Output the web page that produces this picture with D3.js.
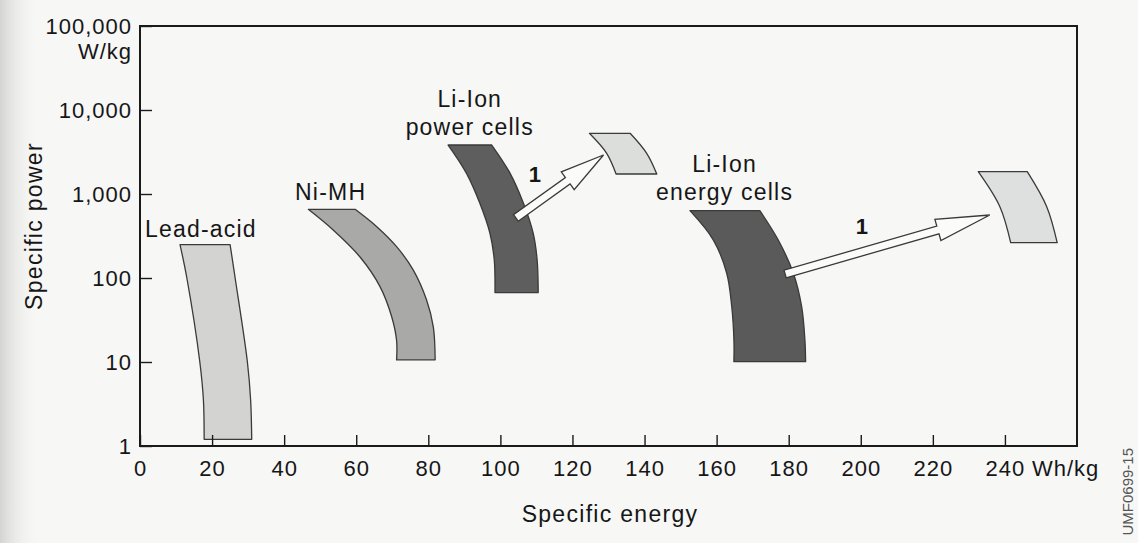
<!DOCTYPE html>
<html>
<head>
<meta charset="utf-8">
<script src="https://cdn.jsdelivr.net/npm/d3@7"></script>
<style>
  html, body { margin: 0; padding: 0; background: #f7f7f6; }
  svg { display: block; }
  text { font-family: "Liberation Sans", Arial, Helvetica, sans-serif; fill: #161616; }
</style>
</head>
<body>
<div id="chart"></div>
<script>
// Specific energy (Wh/kg) on x, specific power (W/kg, log) on y
const xTicks = [0, 20, 40, 60, 80, 100, 120, 140, 160, 180, 200, 220, 240];
const yTicks = [1, 10, 100, 1000, 10000, 100000];

// each band: left edge and right edge, read from top to bottom as [Wh/kg, W/kg]
const leadAcidLeft  = [[11.1, 250], [13.0, 100], [16.6, 10], [17.6, 3.5], [17.8, 1.2]];
const leadAcidRight = [[25.0, 250], [26.4, 100], [29.8, 10], [30.7, 3.5], [31.0, 1.2]];

const niMhLeft  = [[46.7, 657], [53.6, 373], [61.0, 179], [66.6, 79], [69.8, 35], [71.2, 18], [71.2, 10.6]];
const niMhRight = [[59.7, 657], [65.7, 408], [71.2, 236], [75.8, 125], [79.5, 55], [81.4, 26], [81.9, 10.6]];

const liPowerLeft  = [[85.5, 3830], [90.6, 1763], [94.3, 775], [97.1, 341], [98.3, 164], [98.5, 67]];
const liPowerRight = [[97.6, 3830], [102.7, 1763], [106.4, 775], [109.1, 341], [110.2, 164], [110.5, 67]];

const liPowerNextLeft  = [[124.7, 5280], [129.5, 3050], [132.1, 1730]];
const liPowerNextRight = [[136.0, 5280], [140.6, 3050], [143.4, 1730]];

const liEnergyLeft  = [[152.6, 633], [159.1, 283], [162.8, 114], [164.2, 45.5], [164.8, 18.3], [164.8, 10.1]];
const liEnergyRight = [[172.0, 633], [177.1, 283], [181.3, 114], [183.6, 45.5], [184.5, 18.3], [184.7, 10.1]];

const liEnergyNextLeft  = [[232.6, 1844], [238.6, 706], [241.6, 263]];
const liEnergyNextRight = [[246.2, 1844], [251.6, 706], [254.5, 263]];

// development arrows "1": tail -> tip
const arrowFrom = [[104.3, 518], [179.0, 111.6]];
const arrowTo   = [[128.6, 2912], [235.8, 562]];

// labels
const regionLabels = [["Lead-acid"], ["Ni-MH"], ["Li-Ion", "power cells"], ["Li-Ion", "energy cells"]];
const labelAt = [[1.4, 308], [52.9, 849], [91.5, 10860], [162.2, 1844]];
const labelAnchor = ["start", "middle", "middle", "middle"];
const arrowLabelAt = [[109.6, 1389], [200.3, 334]];

const W = 1138, H = 543;
const svg = d3.select('#chart').append('svg')
  .attr('width', W)
  .attr('height', H);

// slight grey at the left edge of the photographed page
const grad = svg.append('defs').append('linearGradient').attr('id', 'edge');
grad.append('stop').attr('offset', '0%').attr('stop-color', '#d4d4d2');
grad.append('stop').attr('offset', '100%').attr('stop-color', '#f7f7f6').attr('stop-opacity', 0);
svg.append('rect').attr('x', 0).attr('y', 0).attr('width', 40).attr('height', H).attr('fill', 'url(#edge)');

const x = d3.scaleLinear().domain([0, 260]).range([140, 1077]);
const y = d3.scaleLog().domain([1, 100000]).range([446, 26]);

const ink = '#1a1a1a';
const edge = '#3a3a3a';

// bands
const line = d3.line()
  .x(d => x(d[0]))
  .y(d => y(d[1]))
  .curve(d3.curveCatmullRom.alpha(0.5));

function band(left, right) {
  const l = line(left);
  const r = line(right.slice().reverse());
  return l + 'L' + r.slice(1) + 'Z';
}

const bands = [
  { left: leadAcidLeft, right: leadAcidRight, fill: '#d3d3d2' },
  { left: niMhLeft, right: niMhRight, fill: '#a9a9a8' },
  { left: liPowerLeft, right: liPowerRight, fill: '#5f5e5e' },
  { left: liPowerNextLeft, right: liPowerNextRight, fill: '#dcdedc' },
  { left: liEnergyLeft, right: liEnergyRight, fill: '#5b5a5a' },
  { left: liEnergyNextLeft, right: liEnergyNextRight, fill: '#dde0de' }
];

svg.append('g').selectAll('path')
  .data(bands)
  .join('path')
  .attr('d', d => band(d.left, d.right))
  .attr('fill', d => d.fill)
  .attr('stroke', edge)
  .attr('stroke-width', 1.3)
  .attr('stroke-linejoin', 'round');

// hollow block arrows
const headLen = [44, 54];
function arrowPath(p0, p1, hl) {
  const dx = p1[0] - p0[0], dy = p1[1] - p0[1];
  const len = Math.hypot(dx, dy);
  const ux = dx / len, uy = dy / len;
  const nx = -uy, ny = ux;
  const w = 4, hw = 11;
  const bx = p1[0] - ux * hl, by = p1[1] - uy * hl;
  const pts = [
    [p0[0] + nx * w, p0[1] + ny * w],
    [bx + nx * w, by + ny * w],
    [bx + nx * hw, by + ny * hw],
    p1,
    [bx - nx * hw, by - ny * hw],
    [bx - nx * w, by - ny * w],
    [p0[0] - nx * w, p0[1] - ny * w]
  ];
  return 'M' + pts.map(p => p[0].toFixed(1) + ',' + p[1].toFixed(1)).join('L') + 'Z';
}

svg.append('g').selectAll('path')
  .data(arrowFrom)
  .join('path')
  .attr('d', (d, i) => arrowPath([x(d[0]), y(d[1])], [x(arrowTo[i][0]), y(arrowTo[i][1])], headLen[i]))
  .attr('fill', '#fbfbfa')
  .attr('stroke', edge)
  .attr('stroke-width', 1.3)
  .attr('stroke-linejoin', 'miter');

svg.append('g').selectAll('text')
  .data(arrowLabelAt)
  .join('text')
  .attr('x', d => x(d[0]))
  .attr('y', d => y(d[1]))
  .attr('text-anchor', 'middle')
  .style('font-size', '22px')
  .style('font-weight', 'bold')
  .text('1');

// frame
svg.append('rect')
  .attr('x', x(0))
  .attr('y', y(100000))
  .attr('width', x(260) - x(0))
  .attr('height', y(1) - y(100000))
  .attr('fill', 'none')
  .attr('stroke', ink)
  .attr('stroke-width', 2);

// axes
const xAxis = d3.axisBottom(x)
  .tickValues(xTicks)
  .tickFormat(d3.format('d'))
  .tickSizeInner(-11)
  .tickSizeOuter(0)
  .tickPadding(14);

const gx = svg.append('g')
  .attr('transform', `translate(0,${y(1)})`)
  .call(xAxis);
gx.select('.domain').remove();
gx.selectAll('line').attr('stroke', ink).attr('stroke-width', 1.4);
gx.selectAll('text')
  .style('font-size', '22px')
  .style('letter-spacing', '1px');

const yAxis = d3.axisLeft(y)
  .tickValues(yTicks)
  .tickFormat(d3.format(','))
  .tickSizeInner(-12)
  .tickSizeOuter(0)
  .tickPadding(8);

const gy = svg.append('g')
  .attr('transform', `translate(${x(0)},0)`)
  .call(yAxis);
gy.select('.domain').remove();
gy.selectAll('line').attr('stroke', ink).attr('stroke-width', 1.4);
gy.selectAll('text')
  .style('font-size', '22px')
  .style('letter-spacing', '1px');

// units
svg.append('text')
  .attr('x', x(0) - 8)
  .attr('y', y(100000) + 33)
  .attr('text-anchor', 'end')
  .style('font-size', '22px')
  .style('letter-spacing', '1px')
  .text('W/kg');

svg.append('text')
  .attr('x', x(240) + 27)
  .attr('y', y(1) + 29.5)
  .style('font-size', '22px')
  .style('letter-spacing', '1px')
  .text('Wh/kg');

// axis titles
svg.append('text')
  .attr('x', 610)
  .attr('y', 521.5)
  .attr('text-anchor', 'middle')
  .style('font-size', '23px')
  .style('letter-spacing', '1.3px')
  .text('Specific energy');

svg.append('text')
  .attr('transform', 'translate(42,226) rotate(-90)')
  .attr('text-anchor', 'middle')
  .style('font-size', '23px')
  .style('letter-spacing', '1.3px')
  .text('Specific power');

// band labels
regionLabels.forEach((lines, i) => {
  const t = svg.append('text')
    .attr('x', x(labelAt[i][0]))
    .attr('y', y(labelAt[i][1]))
    .attr('text-anchor', labelAnchor[i])
    .style('font-size', '23px')
    .style('letter-spacing', '1.2px');
  lines.forEach((s, j) => {
    t.append('tspan')
      .attr('x', x(labelAt[i][0]))
      .attr('dy', j === 0 ? 0 : 28)
      .text(s);
  });
});

// figure code on the page edge
svg.append('text')
  .attr('transform', 'translate(1133,448) rotate(-90)')
  .attr('text-anchor', 'end')
  .style('font-size', '15px')
  .style('fill', '#555')
  .text('UMF0699-15');
</script>
</body>
</html>
